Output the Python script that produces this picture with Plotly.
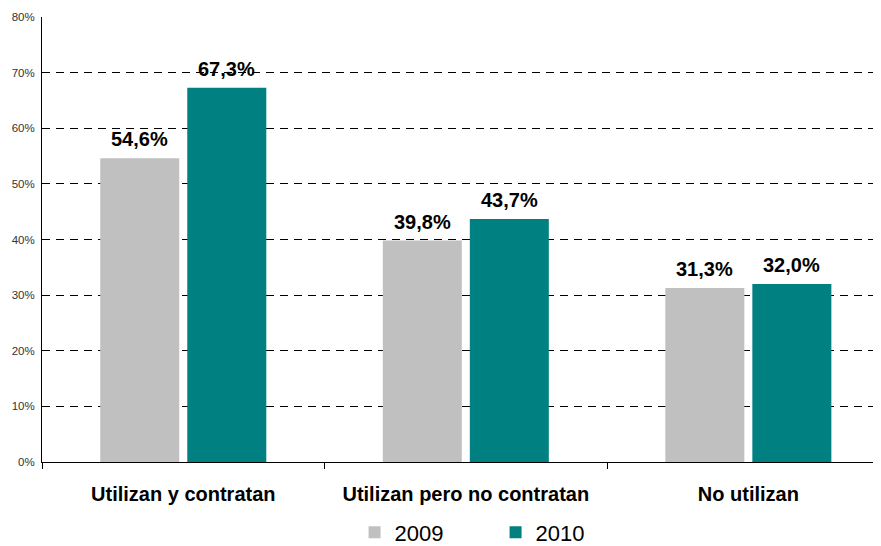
import plotly.graph_objects as go

categories = ["Utilizan y contratan", "Utilizan pero no contratan", "No utilizan"]
years = ["2009", "2010"]
values_2009 = [0.546, 0.398, 0.313]
values_2010 = [0.673, 0.437, 0.320]
colors = ["#C0C0C0", "#008080"]
y_ticks = [0, 0.1, 0.2, 0.3, 0.4, 0.5, 0.6, 0.7, 0.8]

FONT = "Liberation Sans, Arial"

fig = go.Figure()
for name, vals, col in zip(years, [values_2009, values_2010], colors):
    fig.add_trace(go.Bar(
        x=categories, y=vals, name=name, marker_color=col, marker_line_width=0,
        hoverinfo="skip",
    ))

# value labels placed above each bar
offsets = [-0.154, 0.154]
for off, vals in zip(offsets, [values_2009, values_2010]):
    for i, v in enumerate(vals):
        fig.add_annotation(
            x=i + off, y=v, xref="x", yref="y",
            text=f"{v*100:.1f}%".replace(".", ","),
            showarrow=False, yanchor="bottom", xanchor="center", yshift=6,
            font=dict(family=FONT, size=20, color="#000000", weight="bold"),
        )

fig.update_layout(
    width=873, height=566,
    margin=dict(l=34, r=1, t=9, b=112),
    paper_bgcolor="white", plot_bgcolor="white",
    separators=",.",
    barmode="group", bargap=0.384, bargroupgap=0.092,
    font=dict(family=FONT, color="#000000"),
    showlegend=True,
    legend=dict(orientation="h", x=0.373, xanchor="left", y=-0.1585, yanchor="middle",
                font=dict(size=22), itemwidth=30, tracegroupgap=0,
                entrywidth=96),
    xaxis=dict(range=[-0.5, 2.466], showline=True, linecolor="#000000", linewidth=1,
               ticks="outside", tickson="boundaries", ticklen=6, tickcolor="#000000",
               tickfont=dict(size=20, weight="bold"), ticklabelstandoff=14,
               showgrid=False),
    yaxis=dict(range=[0, 0.8], tickvals=y_ticks, tickformat=".0%",
               showline=True, linecolor="#000000", linewidth=1,
               ticks="", tickfont=dict(size=11.5, color="#333333"), ticklabelstandoff=4,
               showgrid=True, gridcolor="#000000", gridwidth=1, griddash="8px,6px",
               zeroline=False),
)
fig.write_html("out.html")
